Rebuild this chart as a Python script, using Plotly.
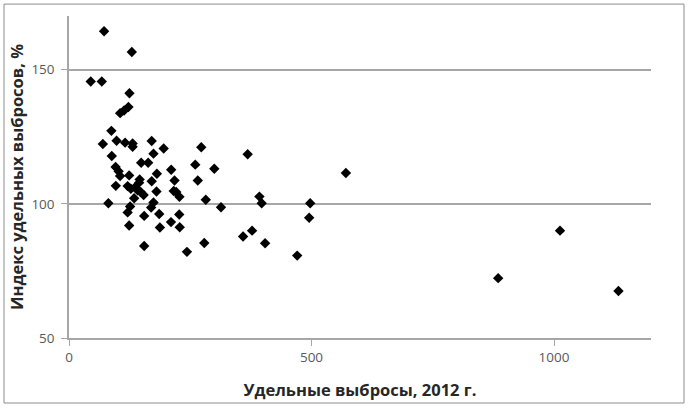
import plotly.graph_objects as go

# Удельные выбросы, 2012 г. (x) and Индекс удельных выбросов, % (y)
emissions_2012 = [
    72.3, 129.5, 44.8, 67.6, 124.6, 105.4, 113.6, 122.5, 87.4, 69.8,
    98.1, 115.7, 131.2, 131.2, 170.5, 195.2, 272.7, 174.2, 88.2, 148.8,
    163.2, 260.3, 96.1, 102.3, 105.4, 124.0, 181.2, 210.7, 217.6, 265.5,
    145.7, 144.6, 170.5, 96.5, 120.9, 127.5, 136.4, 141.5, 147.7, 153.9,
    180.4, 215.9, 221.1, 227.7, 134.3, 81.2, 282.0, 174.2, 169.4, 126.0,
    120.9, 155.0, 186.0, 227.3, 124.0, 187.4, 210.3, 228.3, 155.0, 243.2,
    278.9, 313.4, 299.6, 368.4, 392.6, 397.3, 404.3, 358.9, 377.5, 470.5,
    497.3, 495.2, 570.9, 1012.4, 884.9, 1132.9,
]
emission_index = [
    164.3, 156.6, 145.6, 145.6, 141.2, 133.8, 134.8, 136.1, 127.2, 122.3,
    123.5, 122.8, 122.5, 121.3, 123.4, 120.6, 121.1, 118.7, 117.8, 115.3,
    115.3, 114.6, 113.7, 112.1, 110.4, 110.6, 111.2, 112.7, 108.7, 108.7,
    109.1, 107.9, 108.4, 106.7, 106.6, 105.6, 106.2, 105.0, 104.4, 103.3,
    104.6, 104.8, 104.4, 102.6, 102.1, 100.2, 101.5, 100.5, 98.6, 99.0,
    96.8, 95.5, 96.2, 96.0, 91.9, 91.2, 93.2, 91.3, 84.3, 82.1,
    85.4, 98.7, 113.1, 118.5, 102.7, 100.2, 85.3, 87.8, 90.0, 80.7,
    100.2, 94.8, 111.5, 90.0, 72.3, 67.5,
]
x_ticks = [0, 500, 1000]
y_ticks = [50, 100, 150]

fig = go.Figure()
fig.add_trace(go.Scatter(
    x=emissions_2012, y=emission_index, mode="markers",
    marker=dict(symbol="diamond", size=8, color="black", line=dict(width=0)),
    showlegend=False, hoverinfo="x+y",
))

font_family = "Open Sans, Noto Sans, DejaVu Sans, sans-serif"
fig.update_layout(
    width=688, height=408,
    margin=dict(l=69, r=37, t=16, b=70),
    paper_bgcolor="white", plot_bgcolor="white",
    font=dict(family=font_family, color="#595959", size=13),
    xaxis=dict(
        range=[0, 1200], tickvals=x_ticks, ticktext=[str(v) for v in x_ticks],
        showgrid=False, zeroline=False,
        showline=True, linecolor="#A6A6A6", linewidth=1.5,
        ticks="outside", ticklen=6, tickcolor="#A6A6A6",
        tickfont=dict(size=13.5, color="#595959"),
        title=dict(text="<b>Удельные выбросы, 2012 г.</b>",
                   font=dict(size=16.5, color="#262626"), standoff=19),
    ),
    yaxis=dict(
        range=[50, 170], tickvals=y_ticks, ticktext=[str(v) for v in y_ticks],
        showgrid=True, gridcolor="#A6A6A6", gridwidth=1.5, zeroline=False,
        showline=True, linecolor="#A6A6A6", linewidth=1.5,
        ticks="outside", ticklen=6, tickcolor="#A6A6A6", ticklabelstandoff=4,
        tickfont=dict(size=13.5, color="#595959"),
        title=dict(text="<b>Индекс удельных выбросов, %</b>",
                   font=dict(size=16.5, color="#262626"), standoff=4),
    ),
    shapes=[dict(type="rect", xref="paper", yref="paper",
                 x0=-0.1117, x1=1.0567, y0=-0.2019, y1=1.037,
                 line=dict(color="#8C8C8C", width=1), fillcolor="rgba(0,0,0,0)", layer="below")],
)

fig.write_html("out.html", config={"displayModeBar": False},
               post_script="document.body.style.margin='0';")
